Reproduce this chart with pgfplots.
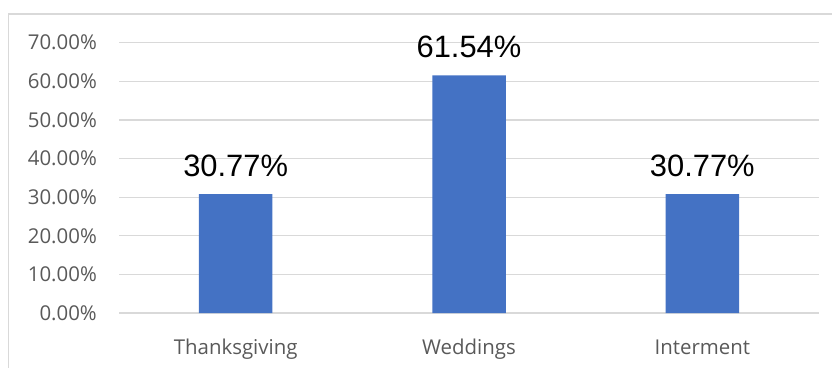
\documentclass[border=0pt]{standalone}
\usepackage{fontspec}
\setmainfont{Open Sans}
\newfontfamily\arialf{Liberation Sans}
\usepackage{pgfplots}
\pgfplotsset{compat=1.18}
\definecolor{barblue}{HTML}{4472C4}
\definecolor{gridgray}{HTML}{D9D9D9}
\definecolor{ticktext}{HTML}{595959}
\begin{document}
\begin{tikzpicture}[x=1bp,y=1bp]
\useasboundingbox (0,0) rectangle (832,367);
\draw[gridgray, line width=1.3bp] (8.5,-2) -- (8.5,353) -- (834,353);
\begin{axis}[
  at={(119bp,54bp)}, anchor=south west,
  scale only axis, width=700bp, height=270.3bp,
  xmin=-0.5, xmax=2.5, ymin=0, ymax=70,
  axis line style={draw=none},
  major tick length=0pt,
  ymajorgrids, major grid style={gridgray, line width=1.3bp},
  ytick={0,10,20,30,40,50,60,70},
  yticklabels={0.00\%,10.00\%,20.00\%,30.00\%,40.00\%,50.00\%,60.00\%,70.00\%},
  xtick={0,1,2},
  xticklabels={Thanksgiving,Weddings,Interment},
  tick label style={font=\fontsize{20.5}{24}\selectfont, text=ticktext},
  yticklabel style={anchor=east, inner sep=0pt, xshift=-22bp},
  xticklabel style={anchor=base, inner sep=0pt, yshift=-41bp},
  /pgf/number format/assume math mode=true,
  ybar, bar width=73.5bp,
  point meta=explicit symbolic,
  nodes near coords,
  every node near coord/.append style={font=\arialf\fontsize{31}{31}\selectfont, text=black, anchor=base, inner sep=0pt, yshift=18bp},
]
\addplot[fill=barblue, draw=none] coordinates {
  (0,30.77) [30.77\%]
  (1,61.54) [61.54\%]
  (2,30.77) [30.77\%]
};
\end{axis}
\end{tikzpicture}
\end{document}
